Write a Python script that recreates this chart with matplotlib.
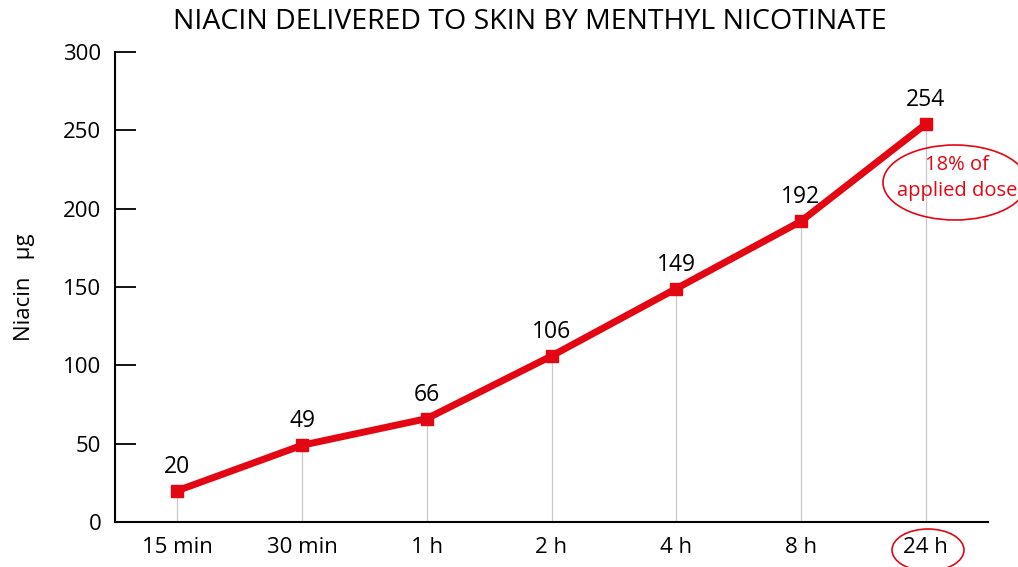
import matplotlib.pyplot as plt
from matplotlib.patches import Ellipse

# Dane
times = ["15 min", "30 min", "1 h", "2 h", "4 h", "8 h", "24 h"]
niacin = [20, 49, 66, 106, 149, 192, 254]

red = "#e30613"
plt.rcParams['font.family'] = ['Open Sans', 'DejaVu Sans']

fig = plt.figure(figsize=(10.18, 5.67), dpi=100)
ax = fig.add_axes([0.113, 0.0794, 0.8575, 0.8286])

x = list(range(len(times)))
ax.vlines(x, 0, niacin, color="#c8c8c8", linewidth=0.9, zorder=1)
ax.plot(x, niacin, color=red, linewidth=5, marker="s", markersize=9, zorder=3)

for xi, v in zip(x, niacin):
    ax.annotate(str(v), (xi, v), xytext=(0, 8.5), textcoords="offset points",
                ha="center", va="bottom", fontsize=16.5, color="black")

ax.set_xlim(-0.5, 6.5)
ax.set_ylim(0, 300)
ax.set_yticks([0, 50, 100, 150, 200, 250, 300])
ax.set_xticks(x)
ax.set_xticklabels(times)
ax.tick_params(axis="y", direction="in", length=15, width=1.3, labelsize=16, pad=10)
ax.tick_params(axis="x", length=0, labelsize=16, pad=11)

for s in ["top", "right"]:
    ax.spines[s].set_visible(False)
ax.spines["left"].set_linewidth(1.5)
ax.spines["bottom"].set_linewidth(1.5)

ax.set_ylabel("Niacin   µg", fontsize=16, labelpad=20)
fig.text(0.52, 0.962, "NIACIN DELIVERED TO SKIN BY MENTHYL NICOTINATE",
         ha="center", va="center", fontsize=20.5)

# Adnotacja 18%
fig.text(957 / 1018, (567 - 178) / 567, "18% of\napplied dose", ha="center", va="center",
         fontsize=14.5, color=red, linespacing=1.4)
ell = Ellipse((955 / 1018, (567 - 182.5) / 567), 144 / 1018, 75 / 567,
              transform=fig.transFigure, fill=False, edgecolor=red, linewidth=1.2)
fig.add_artist(ell)
ell2 = Ellipse((928 / 1018, 17 / 567), 72 / 1018, 42 / 567,
               transform=fig.transFigure, fill=False, edgecolor=red, linewidth=1.2)
fig.add_artist(ell2)

plt.savefig("out.png", dpi=100)
